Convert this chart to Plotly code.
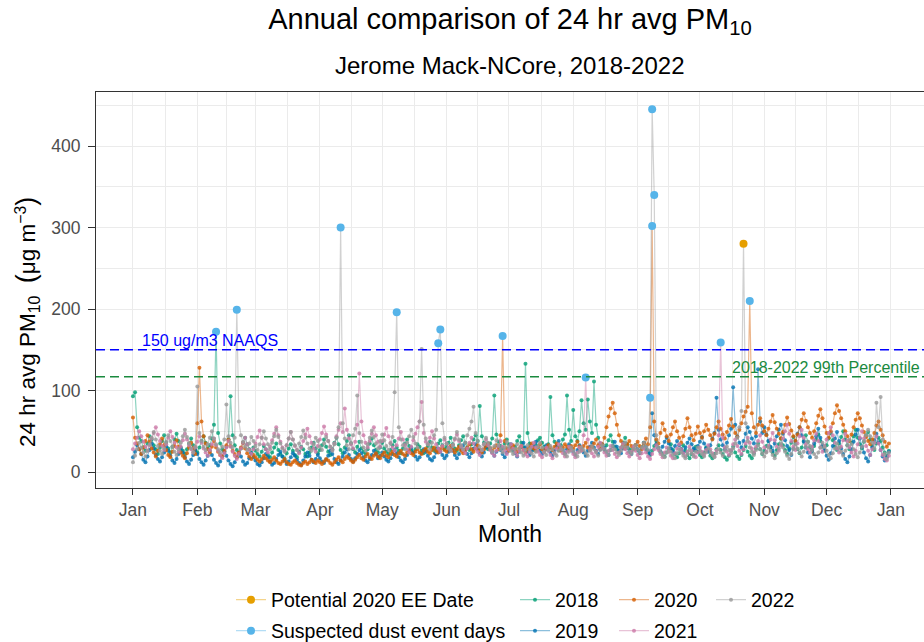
import plotly.graph_objects as go

# ---- axis labels -------------------------------------------------------
MONTHS = ["Jan", "Feb", "Mar", "Apr", "May", "Jun", "Jul",
          "Aug", "Sep", "Oct", "Nov", "Dec", "Jan"]
MONTH_START = [0, 31, 59, 90, 120, 151, 181, 212, 243, 273, 304, 334, 365]

# ---- daily 24-hr average PM10 (ug/m3), day-of-year index 0..364 --------
pm_2018 = [
    93, 98, 55, 42, 38, 30, 26, 35, 44, 40, 33, 28, 22, 30, 38, 45, 36, 29, 24, 31, 40, 47, 38, 30, 26, 22, 28, 35, 41, 33, 27,
    24, 30, 38, 44, 36, 29, 33, 41, 58, 172, 48, 35, 28, 25, 31, 40, 93, 45, 33, 27, 22, 29, 36, 42, 34, 28, 24, 30,
    26, 22, 19, 25, 32, 28, 21, 18, 24, 30, 35, 27, 22, 19, 16, 23, 29, 34, 26, 21, 18, 25, 31, 28, 22, 19, 24, 30, 36, 29, 23,
    27, 33, 40, 31, 25, 21, 28, 36, 42, 34, 27, 23, 30, 38, 45, 35, 28, 24, 31, 37, 29, 25, 22, 28, 35, 41, 33, 27, 24, 30,
    36, 29, 25, 22, 27, 33, 38, 30, 26, 23, 29, 35, 40, 32, 27, 24, 28, 34, 31, 26, 23, 27, 32, 37, 30, 26, 29, 35, 39, 33, 28,
    31, 36, 42, 34, 29, 26, 33, 39, 44, 36, 30, 27, 34, 40, 45, 38, 81, 44, 36, 31, 28, 35, 41, 94, 46, 37, 32, 29, 35, 40,
    34, 29, 26, 31, 38, 44, 36, 30, 133, 48, 35, 30, 27, 33, 39, 42, 36, 31, 28, 34, 92, 45, 37, 31, 27, 33, 40, 46, 94, 52, 38,
    76, 44, 38, 50, 88, 60, 52, 89, 62, 48, 111, 58, 42, 35, 30, 27, 33, 39, 45, 37, 31, 28, 25, 30, 36, 42, 34, 28, 24, 29, 33,
    27, 23, 30, 36, 28, 24, 21, 26, 32, 38, 30, 25, 22, 19, 24, 29, 34, 27, 22, 18, 23, 28, 33, 26, 21, 17, 22, 27, 31, 25,
    21, 18, 24, 30, 26, 20, 17, 22, 28, 33, 27, 22, 18, 15, 20, 26, 31, 24, 19, 16, 21, 27, 32, 25, 20, 17, 23, 29, 35, 28, 22,
    26, 32, 38, 30, 24, 20, 27, 34, 41, 33, 27, 22, 29, 36, 43, 35, 28, 23, 30, 38, 45, 37, 30, 25, 32, 40, 46, 38, 31, 26,
    33, 41, 48, 39, 31, 27, 35, 43, 50, 40, 33, 28, 36, 44, 52, 42, 34, 29, 37, 45, 49, 40, 32, 27, 35, 42, 38, 30, 24, 20, 26,
]
pm_2019 = [
    18, 25, 33, 28, 22, 15, 12, 19, 27, 35, 29, 21, 16, 13, 18, 24, 31, 26, 20, 14, 11, 16, 22, 29, 24, 18, 13, 10, 15, 21, 27,
    22, 16, 12, 9, 14, 20, 26, 21, 15, 11, 8, 13, 19, 25, 20, 14, 10, 7, 12, 18, 24, 19, 13, 9, 11, 17, 23, 18,
    14, 10, 8, 12, 17, 22, 18, 13, 9, 11, 16, 21, 25, 19, 14, 10, 13, 18, 23, 20, 15, 11, 9, 14, 19, 24, 20, 15, 12, 16, 21,
    17, 13, 11, 15, 20, 26, 22, 16, 12, 10, 14, 19, 24, 28, 21, 16, 13, 17, 22, 27, 23, 18, 14, 12, 16, 21, 26, 22, 17, 20,
    24, 19, 15, 13, 17, 22, 27, 23, 18, 14, 12, 16, 21, 26, 30, 24, 19, 15, 18, 23, 28, 25, 20, 16, 14, 18, 24, 29, 25, 21, 17,
    20, 25, 30, 26, 21, 17, 22, 28, 33, 27, 22, 18, 23, 29, 34, 28, 23, 19, 24, 30, 35, 29, 24, 20, 25, 31, 27, 22, 18, 24,
    29, 34, 28, 23, 19, 25, 31, 36, 30, 25, 21, 26, 32, 37, 31, 26, 22, 27, 33, 28, 24, 20, 26, 32, 38, 31, 27, 23, 28, 34, 30,
    25, 21, 27, 33, 29, 24, 20, 26, 31, 36, 30, 26, 22, 28, 34, 30, 25, 21, 27, 32, 37, 31, 26, 23, 29, 35, 30, 25, 22, 28, 33,
    28, 24, 30, 36, 31, 26, 22, 72, 45, 34, 29, 25, 31, 37, 42, 35, 29, 25, 32, 38, 33, 28, 24, 30, 36, 41, 34, 29, 26, 32,
    37, 43, 35, 29, 25, 33, 41, 48, 91, 52, 40, 33, 28, 36, 45, 53, 104, 58, 44, 36, 30, 38, 47, 55, 49, 41, 35, 44, 126, 62, 48,
    55, 46, 38, 31, 26, 35, 44, 52, 58, 47, 39, 32, 27, 21, 29, 38, 47, 55, 45, 37, 30, 24, 18, 26, 35, 44, 53, 42, 33, 27,
    20, 15, 23, 32, 41, 49, 38, 29, 22, 16, 12, 19, 28, 37, 46, 52, 41, 31, 24, 17, 13, 21, 30, 39, 47, 36, 27, 19, 14, 18, 25,
]
pm_2020 = [
    67, 42, 35, 28, 22, 30, 38, 45, 37, 29, 24, 19, 26, 34, 41, 33, 27, 21, 18, 25, 32, 39, 31, 24, 20, 17, 23, 30, 36, 29, 22,
    60, 128, 62, 44, 35, 28, 24, 31, 38, 30, 25, 21, 19, 26, 33, 40, 32, 26, 22, 18, 24, 30, 36, 29, 23, 19, 16, 21,
    18, 15, 13, 16, 20, 17, 14, 12, 15, 18, 14, 11, 10, 13, 16, 12, 10, 9, 12, 14, 11, 9, 8, 11, 13, 10, 12, 15, 13, 11, 14,
    12, 10, 13, 16, 14, 11, 9, 12, 15, 18, 14, 12, 16, 19, 17, 14, 12, 15, 18, 21, 17, 15, 19, 22, 18, 16, 20, 23, 19, 17,
    21, 24, 20, 18, 22, 25, 21, 19, 23, 26, 22, 20, 24, 27, 23, 21, 25, 28, 24, 22, 26, 29, 25, 23, 27, 30, 26, 24, 28, 31, 27,
    25, 29, 32, 27, 24, 28, 31, 26, 23, 27, 30, 34, 28, 25, 29, 33, 27, 24, 28, 32, 35, 29, 26, 30, 33, 28, 45, 167, 38, 29,
    26, 30, 33, 28, 25, 29, 32, 27, 24, 28, 31, 35, 29, 26, 30, 34, 28, 25, 29, 33, 30, 27, 31, 35, 29, 26, 30, 34, 31, 27, 32,
    29, 33, 37, 31, 27, 32, 36, 30, 27, 31, 35, 40, 33, 29, 34, 42, 55, 68, 78, 85, 72, 58, 45, 38, 33, 29, 34, 38, 32, 28, 33,
    37, 32, 28, 35, 41, 34, 55, 302, 62, 40, 35, 48, 60, 52, 44, 38, 46, 55, 62, 50, 42, 36, 44, 53, 66, 55, 45, 39, 47, 56,
    48, 42, 50, 58, 52, 45, 40, 47, 55, 62, 53, 46, 41, 49, 57, 65, 56, 48, 43, 52, 60, 68, 74, 80, 210, 72, 55, 48, 58, 66, 57,
    50, 45, 53, 62, 70, 61, 53, 47, 41, 49, 58, 67, 59, 51, 44, 38, 46, 55, 64, 72, 63, 55, 48, 42, 50, 60, 69, 77, 66, 56,
    48, 42, 50, 60, 72, 82, 75, 66, 58, 50, 44, 38, 46, 55, 64, 72, 66, 57, 49, 43, 38, 34, 40, 48, 57, 62, 52, 45, 37, 31, 35,
]
pm_2021 = [
    28, 35, 42, 50, 44, 37, 31, 26, 33, 41, 48, 55, 46, 38, 32, 27, 34, 42, 50, 43, 36, 30, 25, 31, 39, 47, 40, 33, 28, 24, 30,
    37, 44, 36, 29, 24, 20, 27, 34, 41, 33, 26, 21, 17, 23, 30, 38, 31, 25, 20, 16, 22, 29, 36, 42, 34, 27, 22, 28,
    35, 43, 51, 42, 34, 28, 24, 31, 39, 47, 55, 45, 37, 30, 26, 33, 41, 49, 40, 32, 27, 23, 30, 38, 46, 53, 44, 36, 29, 25, 32,
    40, 48, 56, 46, 38, 31, 27, 35, 44, 52, 60, 49, 78, 52, 41, 34, 29, 37, 58, 121, 62, 45, 36, 30, 38, 47, 55, 45, 37, 31,
    38, 46, 54, 44, 36, 30, 26, 33, 41, 49, 40, 33, 28, 24, 31, 39, 47, 55, 62, 86, 48, 37, 34, 42, 50, 41, 34, 29, 25, 32, 40,
    35, 30, 26, 33, 40, 46, 38, 31, 27, 23, 29, 36, 42, 35, 29, 25, 21, 27, 34, 40, 33, 27, 23, 20, 26, 32, 38, 31, 26, 22,
    28, 34, 29, 24, 20, 26, 32, 27, 22, 19, 25, 31, 36, 30, 25, 21, 18, 24, 30, 26, 21, 17, 23, 29, 34, 28, 23, 19, 25, 31, 27,
    22, 18, 24, 30, 26, 45, 116, 40, 28, 23, 19, 25, 31, 36, 29, 24, 20, 26, 32, 27, 22, 18, 24, 30, 35, 28, 23, 19, 25, 31, 26,
    21, 17, 23, 29, 24, 19, 16, 22, 28, 33, 27, 22, 18, 24, 30, 25, 20, 17, 23, 29, 34, 28, 23, 19, 25, 31, 26, 21, 18, 24,
    30, 25, 21, 27, 33, 28, 23, 19, 26, 45, 159, 42, 30, 25, 21, 27, 34, 40, 32, 26, 22, 28, 35, 42, 36, 29, 24, 31, 38, 45, 37,
    30, 25, 32, 40, 48, 39, 31, 26, 33, 41, 50, 58, 47, 38, 31, 27, 35, 44, 52, 42, 34, 28, 24, 31, 39, 47, 38, 30, 25, 32,
    40, 48, 55, 45, 36, 29, 24, 31, 39, 47, 38, 30, 24, 19, 26, 34, 42, 50, 41, 32, 26, 21, 28, 36, 44, 35, 27, 21, 16, 14, 20,
]
pm_2022 = [
    12, 20, 28, 36, 30, 24, 19, 26, 34, 42, 49, 40, 32, 26, 22, 29, 37, 45, 38, 31, 25, 21, 28, 36, 44, 52, 43, 35, 29, 24, 31,
    105, 48, 38, 31, 27, 34, 42, 50, 41, 34, 28, 24, 31, 40, 83, 44, 36, 30, 42, 199, 62, 45, 37, 31, 27, 35, 43, 38,
    32, 27, 34, 42, 50, 41, 34, 28, 36, 44, 52, 43, 35, 29, 25, 33, 41, 49, 40, 33, 27, 35, 43, 51, 42, 35, 29, 26, 34, 42, 38,
    31, 27, 35, 43, 38, 31, 26, 34, 42, 55, 300, 60, 41, 33, 28, 36, 45, 53, 94, 48, 37, 30, 26, 34, 42, 51, 43, 35, 29, 38,
    46, 39, 32, 27, 35, 43, 98, 196, 55, 40, 33, 28, 36, 44, 52, 43, 35, 30, 62, 151, 58, 41, 34, 28, 36, 45, 52, 158, 175, 60, 42,
    35, 29, 26, 33, 41, 49, 40, 33, 28, 36, 45, 53, 62, 80, 48, 38, 31, 27, 34, 42, 36, 30, 25, 32, 39, 33, 28, 24, 30, 37,
    31, 26, 22, 28, 34, 29, 24, 20, 27, 33, 28, 23, 19, 25, 31, 36, 30, 25, 21, 27, 32, 28, 23, 20, 26, 31, 27, 22, 19, 25, 30,
    26, 22, 19, 25, 30, 27, 23, 20, 26, 32, 28, 24, 20, 27, 33, 29, 25, 21, 27, 32, 28, 24, 21, 26, 31, 36, 30, 25, 22, 28, 33,
    28, 24, 30, 36, 31, 27, 91, 445, 340, 45, 30, 25, 21, 18, 24, 29, 25, 21, 17, 23, 28, 24, 20, 17, 22, 27, 23, 19, 25, 30,
    26, 22, 19, 24, 29, 25, 21, 18, 23, 28, 24, 20, 26, 31, 27, 23, 29, 35, 42, 55, 75, 280, 60, 38, 30, 25, 21, 27, 33, 28, 23,
    19, 24, 30, 26, 21, 17, 23, 29, 35, 30, 25, 20, 16, 22, 28, 34, 29, 24, 19, 25, 31, 37, 32, 27, 22, 18, 24, 30, 36, 31,
    26, 21, 17, 23, 29, 35, 30, 25, 20, 26, 33, 40, 34, 28, 22, 18, 24, 31, 38, 45, 52, 44, 36, 29, 85, 55, 92, 40, 22, 16, 24,
]

# ---- flagged days (day-of-year index within the given year) -----------
dust_days = {
    2018: [40],
    2020: [178, 250, 297],
    2021: [218, 283],
    2022: [50, 100, 127, 147, 148, 249, 250, 251],
}
ee_days = {2022: [294]}

NAAQS = 150
P99 = 117

YEARS = [2018, 2019, 2020, 2021, 2022]
series = {2018: pm_2018, 2019: pm_2019, 2020: pm_2020, 2021: pm_2021, 2022: pm_2022}
for yr in YEARS:
    assert len(series[yr]) == 365, (yr, len(series[yr]))

COLORS = {2018: "#009E73", 2019: "#0072B2", 2020: "#D55E00",
          2021: "#CC79A7", 2022: "#999999"}
DUST_COLOR = "#56B4E9"
EE_COLOR = "#E69F00"
GREEN_REF = "#1A8A3E"


def rgba(hex_color, alpha):
    h = hex_color.lstrip("#")
    r, g, b = int(h[0:2], 16), int(h[2:4], 16), int(h[4:6], 16)
    return f"rgba({r},{g},{b},{alpha})"


def flagged_points(flags):
    """Points separated by gaps so no connecting line is drawn."""
    xs, ys = [], []
    for yr, days in flags.items():
        for d in days:
            xs += [d, None]
            ys += [series[yr][d], None]
    return xs, ys


# ---- plot-area geometry (pixels) --------------------------------------
W, H = 924, 642
L, R, T, B = 96, 0, 92, 154
PW, PH = W - L - R, H - T - B


def px_x(px):
    return (px - L) / PW


def px_y(py):
    return (H - B - py) / PH


FONT = "Liberation Sans, Arial, Helvetica, sans-serif"

# legend slots: (legend id, key centre x px, row centre y px)
ROW1, ROW2 = 600, 631
slots = {
    "Potential 2020 EE Date": ("legend", 251, ROW1),
    "Suspected dust event days": ("legend2", 251, ROW2),
    "2018": ("legend3", 535, ROW1),
    "2019": ("legend4", 535, ROW2),
    "2020": ("legend5", 634, ROW1),
    "2021": ("legend6", 634, ROW2),
    "2022": ("legend7", 731, ROW1),
}

fig = go.Figure()
days = list(range(365))

for yr in YEARS:
    fig.add_trace(go.Scatter(
        x=days, y=series[yr], mode="lines+markers", name=str(yr),
        line=dict(color=rgba(COLORS[yr], 0.45), width=1.2),
        marker=dict(color=rgba(COLORS[yr], 0.8), size=4),
        legend=slots[str(yr)][0], hoverinfo="skip",
    ))

dx, dy = flagged_points(dust_days)
fig.add_trace(go.Scatter(
    x=dx, y=dy, mode="lines+markers", name="Suspected dust event days",
    line=dict(color=rgba(DUST_COLOR, 0.45), width=1.2),
    marker=dict(color=DUST_COLOR, size=8), connectgaps=False,
    legend=slots["Suspected dust event days"][0], hoverinfo="skip",
))
ex, ey = flagged_points(ee_days)
fig.add_trace(go.Scatter(
    x=ex, y=ey, mode="lines+markers", name="Potential 2020 EE Date",
    line=dict(color=rgba(EE_COLOR, 0.45), width=1.2),
    marker=dict(color=EE_COLOR, size=8), connectgaps=False,
    legend=slots["Potential 2020 EE Date"][0], hoverinfo="skip",
))

# reference lines
fig.add_shape(type="line", xref="paper", x0=0, x1=1, yref="y", y0=NAAQS, y1=NAAQS,
              line=dict(color="#0000FF", width=1.5, dash="9px,5px"))
fig.add_shape(type="line", xref="paper", x0=0, x1=1, yref="y", y0=P99, y1=P99,
              line=dict(color=GREEN_REF, width=1.5, dash="9px,5px"))

NB = "\u00a0"
big = "<span style='font-size:27px'>{}</span>"
y_title = ("24 hr avg PM<sub>10</sub>" + NB * 2 + big.format("(")
           + "\u03bcg" + NB + "m<sup>\u22123</sup>" + big.format(")"))

annotations = [
    dict(text="150 ug/m3 NAAQS", x=3.5, xref="x", xanchor="left",
         y=NAAQS, yref="y", yanchor="middle", yshift=9,
         font=dict(size=16, color="#0000FF")),
    dict(text="2018-2022 99th Percentile", x=px_x(922), xref="paper", xanchor="right",
         y=P99, yref="y", yanchor="middle", yshift=9,
         font=dict(size=16, color=GREEN_REF)),
    dict(text="Jerome Mack-NCore, 2018-2022", x=0.5, xref="paper", xanchor="center",
         y=px_y(66), yref="paper", yanchor="middle", font=dict(size=24)),
    dict(text="Month", x=0.5, xref="paper", xanchor="center",
         y=px_y(534), yref="paper", yanchor="middle", font=dict(size=23)),
    dict(text=y_title, textangle=-90,
         x=px_x(27), xref="paper", xanchor="center",
         y=px_y(322), yref="paper", yanchor="middle", font=dict(size=22.5)),
]
for a in annotations:
    a["showarrow"] = False
fig.update_layout(annotations=annotations)

minor_x = [(a + b) / 2 for a, b in zip(MONTH_START[:-1], MONTH_START[1:])]

fig.update_xaxes(
    range=[-17.8, 380.9], tickmode="array", tickvals=MONTH_START, ticktext=MONTHS,
    ticks="outside", ticklen=6, tickwidth=1.1, tickcolor="#333333",
    tickfont=dict(size=17.5, color="#4D4D4D", family=FONT),
    showgrid=True, gridcolor="#EBEBEB", gridwidth=1.1,
    minor=dict(tickmode="array", tickvals=minor_x, showgrid=True,
               gridcolor="#EBEBEB", gridwidth=0.6),
    showline=True, linecolor="#333333", linewidth=1.1, mirror=True,
    zeroline=False,
)
fig.update_yaxes(
    range=[-19.6, 466.3], tickmode="array", tickvals=[0, 100, 200, 300, 400],
    ticks="outside", ticklen=7, tickwidth=1.1, tickcolor="#333333",
    tickfont=dict(size=17.5, color="#4D4D4D", family=FONT), ticklabelstandoff=4,
    showgrid=True, gridcolor="#EBEBEB", gridwidth=1.1,
    minor=dict(tickmode="array", tickvals=[50, 150, 250, 350, 450], showgrid=True,
               gridcolor="#EBEBEB", gridwidth=0.6),
    showline=True, linecolor="#333333", linewidth=1.1, mirror=False,
    zeroline=False,
)

legend_layout = {}
for label, (lid, cx, cy) in slots.items():
    legend_layout[lid] = dict(
        x=px_x(cx - 20), y=px_y(cy), xanchor="left", yanchor="middle",
        orientation="v", bgcolor="rgba(0,0,0,0)", borderwidth=0,
        font=dict(size=19.5, color="black", family=FONT), itemwidth=30,
    )

fig.update_layout(
    width=W, height=H, margin=dict(l=L, r=R, t=T, b=B, autoexpand=False),
    paper_bgcolor="white", plot_bgcolor="white",
    font=dict(family=FONT, color="black"),
    title=dict(text="Annual comparison of 24 hr avg PM<sub>10</sub>",
               x=0.5, xref="paper", xanchor="center",
               y=1 - 19 / H, yref="container", yanchor="middle",
               font=dict(size=29, color="black")),
    showlegend=True,
    **legend_layout,
)

fig.write_html("out.html")
